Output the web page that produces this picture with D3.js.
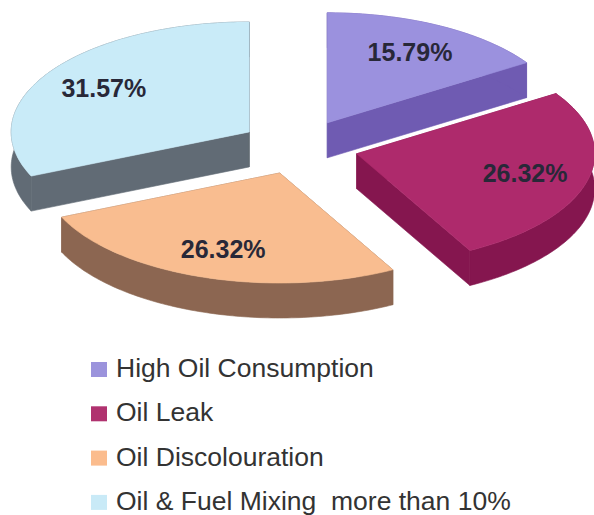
<!DOCTYPE html>
<html>
<head>
<meta charset="utf-8">
<script src="https://cdn.jsdelivr.net/npm/d3@7"></script>
<style>
  html, body { margin: 0; padding: 0; background: #ffffff; }
  svg { display: block; }
</style>
</head>
<body>
<script>
// ---- data ----
const categories = ["High Oil Consumption", "Oil Leak", "Oil Discolouration", "Oil & Fuel Mixing  more than 10%"];
const values = [15.79, 26.32, 26.32, 31.57];
const valueLabels = ["15.79%", "26.32%", "26.32%", "31.57%"];
const topColors = ["#9b91de", "#ae2a6c", "#f9bd90", "#c9ebf8"];
const sideColors = ["#6f5bb2", "#85164f", "#8c6651", "#616b75"];
const legendColors = ["#9b93dc", "#b0326f", "#fbbc8d", "#c9eaf7"];

// ---- layout ----
const W = 594, H = 515;
const cx = 299, cy = 147, rx = 238, ry = 110, depth = 35, explode = 0.25, labelR = 0.73;

const svg = d3.select("body").append("svg")
  .attr("width", W).attr("height", H)
  .attr("viewBox", `0 0 ${W} ${H}`);
svg.append("rect").attr("width", W).attr("height", H).attr("fill", "#ffffff");

const pie = d3.pie().sort(null).value(d => d);
const arcs = pie(values);

const line = d3.line();
function pt(v, a, r = 1) { return [v[0] + r * rx * Math.sin(a), v[1] - r * ry * Math.cos(a)]; }

const slices = arcs.map((a, i) => {
  const mid = (a.startAngle + a.endAngle) / 2;
  const v = pt([cx, cy], mid, explode);
  return { a, i, v, mid };
}).sort((p, q) => p.v[1] - q.v[1]);

const g = svg.append("g");
slices.forEach(s => {
  const { a, i, v } = s;
  const n = Math.max(8, Math.ceil((a.endAngle - a.startAngle) * 60));
  const angs = d3.range(n + 1).map(k => a.startAngle + (a.endAngle - a.startAngle) * k / n);
  const rim = angs.map(t => pt(v, t));
  const down = p => [p[0], p[1] + depth];
  const sg = g.append("g");
  const walls = [
    [v, rim[0], down(rim[0]), down(v)],
    [v, rim[rim.length - 1], down(rim[rim.length - 1]), down(v)],
    rim.concat(rim.slice().reverse().map(down))
  ];
  walls.forEach(w => sg.append("path")
    .attr("d", line(w) + "Z")
    .attr("fill", sideColors[i])
    .attr("stroke", sideColors[i]).attr("stroke-width", 0.6).attr("stroke-linejoin", "round"));
  sg.append("path")
    .attr("d", line([v].concat(rim)) + "Z")
    .attr("fill", topColors[i])
    .attr("stroke", topColors[i]).attr("stroke-width", 0.6).attr("stroke-linejoin", "round");
});

// value labels
slices.forEach(s => {
  const p = pt(s.v, s.mid, labelR);
  svg.append("text")
    .attr("x", p[0]).attr("y", p[1])
    .attr("dy", "0.36em")
    .attr("text-anchor", "middle")
    .attr("font-family", "'Liberation Sans', Arial, sans-serif")
    .attr("font-weight", "bold")
    .attr("font-size", 25)
    .attr("fill", "#282838")
    .text(valueLabels[s.i]);
});

// legend
const legend = svg.append("g").attr("transform", "translate(91,362)");
categories.forEach((c, i) => {
  const row = legend.append("g").attr("transform", `translate(0,${i * 44.3})`);
  row.append("rect").attr("x", 0).attr("y", 0).attr("width", 16).attr("height", 15)
    .attr("fill", legendColors[i]);
  row.append("text")
    .attr("x", 25).attr("y", 15)
    .attr("font-family", "'Liberation Sans', Arial, sans-serif")
    .attr("font-size", 26.5)
    .attr("fill", "#333333")
    .style("white-space", "pre")
    .text(c);
});
</script>
</body>
</html>
